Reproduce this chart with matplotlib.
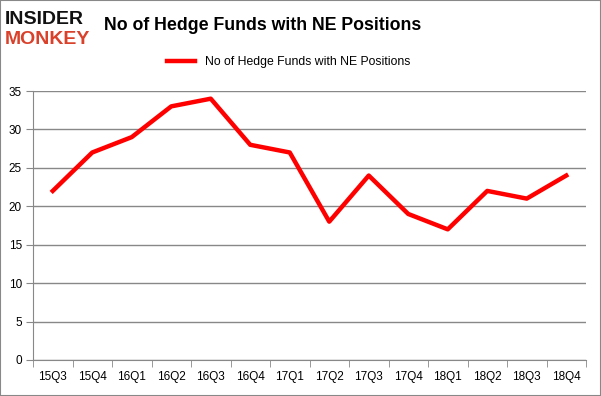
import matplotlib.pyplot as plt
import numpy as np

quarters = ['15Q3', '15Q4', '16Q1', '16Q2', '16Q3', '16Q4', '17Q1',
            '17Q2', '17Q3', '17Q4', '18Q1', '18Q2', '18Q3', '18Q4']
funds = [22, 27, 29, 33, 34, 28, 27, 18, 24, 19, 17, 22, 21, 24]

plt.rcParams['font.family'] = ['Liberation Sans', 'DejaVu Sans']

fig = plt.figure(figsize=(6.01, 3.96), dpi=100)
ax = fig.add_axes([33 / 601, 1 - 360 / 396, (586 - 33) / 601, (360 - 91) / 396])

x = np.arange(len(quarters))
ax.plot(x, funds, color='#ff0000', lw=3.2, solid_joinstyle='round',
        label='No of Hedge Funds with NE Positions')

ax.set_xlim(-0.5, len(quarters) - 0.5)
ax.set_ylim(0, 35)
ax.set_yticks(range(0, 36, 5))
ax.set_xticks(x)
ax.set_xticklabels(quarters)
ax.set_xticks(np.arange(-0.5, len(quarters), 1), minor=True)
ax.tick_params(axis='x', which='major', length=0, pad=8, labelsize=8.5)
ax.tick_params(axis='x', which='minor', length=5, color='#888888')
ax.tick_params(axis='y', length=5, color='#888888', labelsize=8.5, pad=3)
ax.grid(axis='y', color='#888888', lw=1)
ax.set_axisbelow(True)
for s in ['top', 'right']:
    ax.spines[s].set_visible(False)
for s in ['left', 'bottom']:
    ax.spines[s].set_color('#888888')

# 로고
fig.text(5 / 601, 1 - 19 / 396, 'INSIDER', fontsize=14, fontweight='bold',
         color='#111111', va='center', ha='left')
fig.text(5 / 601, 1 - 40 / 396, 'MONKEY', fontsize=14, fontweight='bold',
         color='#d9412b', va='center', ha='left')

# 제목
fig.text(263 / 601, 1 - 25 / 396, 'No of Hedge Funds with NE Positions',
         fontsize=12.8, fontweight='bold', ha='center', va='center')

leg = fig.legend(loc='center', bbox_to_anchor=(289 / 601, 1 - 62 / 396),
                 frameon=False, fontsize=8.8, handlelength=2.3)

# 테두리
fig.patches.append(plt.Rectangle((0, 0), 1, 1, transform=fig.transFigure,
                                 fill=False, ec='#888888', lw=1.5))

fig.savefig('out.png', dpi=100)
